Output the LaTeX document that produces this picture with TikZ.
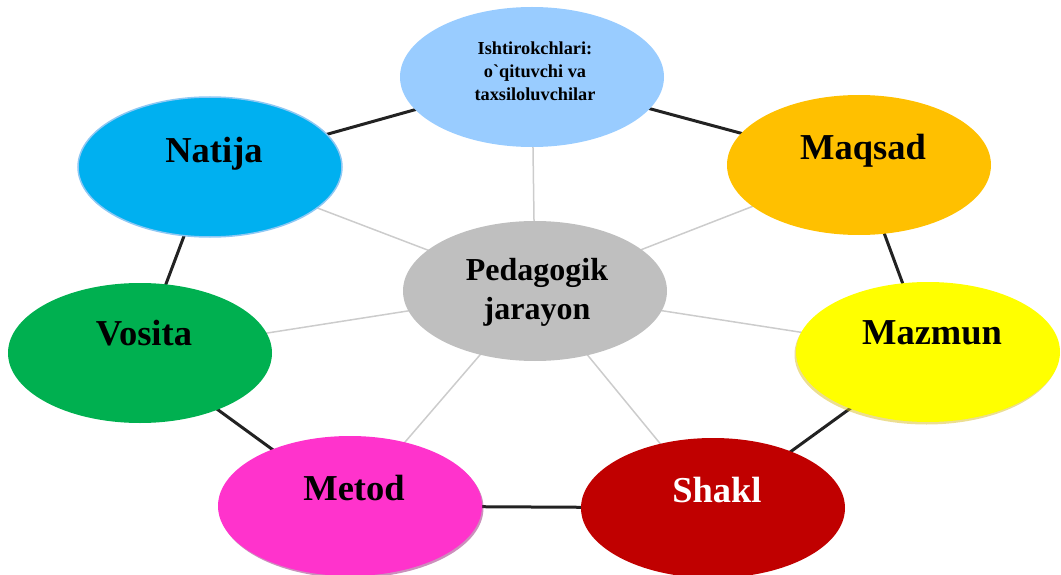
\documentclass[tikz,border=0pt]{standalone}
\usepackage{fontspec}
\setmainfont{Liberation Serif}
\newfontfamily\rawserif{Liberation Serif}
\usetikzlibrary{shapes.geometric,backgrounds,shadows}
\definecolor{ishc}{HTML}{99CCFF}
\definecolor{natc}{HTML}{00B0F0}
\definecolor{natedge}{HTML}{8EC8F4}
\definecolor{maqc}{HTML}{FFC000}
\definecolor{pedc}{HTML}{BFBFBF}
\definecolor{vosc}{HTML}{00B050}
\definecolor{mazc}{HTML}{FFFF00}
\definecolor{metc}{HTML}{FF33CC}
\definecolor{shkc}{HTML}{C00000}
\definecolor{ringc}{HTML}{222222}
\definecolor{spokec}{HTML}{CCCCCC}
\begin{document}
\begin{tikzpicture}[x=1pt,y=-1pt,
  bub/.style={ellipse, minimum width=264pt, minimum height=140pt, inner sep=0pt},
  ring/.style={draw=ringc, line width=3pt},
  spoke/.style={draw=spokec, line width=1.5pt},
  big/.style={font=\fontsize{36.5}{40}\selectfont\bfseries, xshift=4pt},
  mid/.style={font=\fontsize{32}{39}\selectfont\bfseries, align=center, yshift=-1pt, xshift=2pt},
  small/.style={font=\rawserif\fontsize{18.3}{23}\selectfont\bfseries, align=center, yshift=5.5pt, xshift=3pt}]
\useasboundingbox (0,0) rectangle (1061,575);

\node[bub, fill=ishc, label={[small]center:Ishtirokchlari:\\o`qituvchi va\\taxsiloluvchilar}] (ish) at (532,77) {};
\node[bub, fill=natc, draw=natedge, line width=1.5pt, label={[big, yshift=13pt]center:Natija}] (natija) at (210,167) {};
\node[bub, fill=maqc, label={[big, yshift=14pt]center:Maqsad}] (maqsad) at (859,165) {};
\node[bub, fill=pedc, label={[mid]center:Pedagogik\\jarayon}] (ped) at (535,291) {};
\node[bub, fill=vosc, label={[big, yshift=20pt]center:Vosita}] (vosita) at (140,353) {};
\node[bub, fill=mazc, drop shadow={shadow xshift=-1.5pt, shadow yshift=-2.5pt, fill=black!20!yellow!80!orange, opacity=0.5}, label={[big, yshift=19pt]center:Mazmun}] (mazmun) at (928,352) {};
\node[bub, fill=metc, drop shadow={shadow xshift=1.5pt, shadow yshift=-2pt, fill=metc!60!black, opacity=0.5}, label={[big, yshift=18pt]center:Metod}] (metod) at (350,506) {};
\node[bub, fill=shkc, label={[big, yshift=18pt, text=white]center:Shakl}] (shakl) at (713,508) {};

\begin{scope}[on background layer]
  \draw[spoke] (ped.center) -- (ish.center);
  \draw[spoke] (ped.center) -- (natija.center);
  \draw[spoke] (ped.center) -- (maqsad.center);
  \draw[spoke] (ped.center) -- (vosita.center);
  \draw[spoke] (ped.center) -- (mazmun.center);
  \draw[spoke] (ped.center) -- (metod.center);
  \draw[spoke] (ped.center) -- (shakl.center);
  \draw[ring] (ish.center) -- (maqsad.center);
  \draw[ring] (maqsad.center) -- (mazmun.center);
  \draw[ring] (mazmun.center) -- (shakl.center);
  \draw[ring] (shakl.center) -- (metod.center);
  \draw[ring] (metod.center) -- (vosita.center);
  \draw[ring] (vosita.center) -- (natija.center);
  \draw[ring] (natija.center) -- (ish.center);
\end{scope}
\end{tikzpicture}
\end{document}
